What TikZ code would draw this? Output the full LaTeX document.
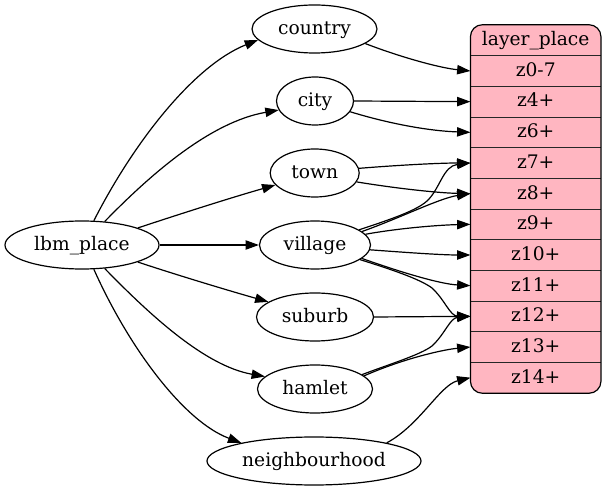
\documentclass[tikz,border=0pt]{standalone}
\usepackage{fontspec}
\setmainfont{DejaVu Serif}
\usetikzlibrary{shapes.geometric,arrows.meta}
\definecolor{lpink}{HTML}{FFB6C1}
\begin{document}
\begin{tikzpicture}[x=0.75pt,y=-0.75pt,
  lbl/.style={font=\fontsize{14}{16}\selectfont, text height=10.5pt, text depth=2.5pt},
  ell/.style={lbl, draw, ellipse, line width=0.9pt, inner sep=0pt, minimum height=36pt},
  cell/.style={lbl, inner sep=0pt, minimum width=97.5pt, minimum height=23pt},
  sep/.style={line width=0.7pt, black!85},
  edge/.style={-{Triangle[length=10pt,width=7pt]}, line width=0.9pt}]
\useasboundingbox (0,0) rectangle (607,491);
% ellipses
\node[ell, minimum width=115.5pt] (lbm) at (82,245) {lbm\_place};
\node[ell, minimum width=93.75pt] (country) at (314.5,29) {country};
\node[ell, minimum width=57.75pt] (city) at (315,101) {city};
\node[ell, minimum width=66.75pt] (town) at (314.7,173) {town};
\node[ell, minimum width=83.25pt] (village) at (315,245) {village};
\node[ell, minimum width=87.75pt] (suburb) at (315,317) {suburb};
\node[ell, minimum width=86.25pt] (hamlet) at (315,389) {hamlet};
\node[ell, minimum width=160.5pt] (neigh) at (314,461) {neighbourhood};
% record
\node[fill=lpink, rounded corners=9pt, minimum width=97.5pt, minimum height=276pt, inner sep=0pt] (rec) at (535.7,209) {};
\node[cell] (hdr) at (535.7,40.33) {layer\_place};
\node[cell] (r1) at (535.7,71) {z0-7};
\node[cell] (r2) at (535.7,101.67) {z4+};
\node[cell] (r3) at (535.7,132.33) {z6+};
\node[cell] (r4) at (535.7,163) {z7+};
\node[cell] (r5) at (535.7,193.67) {z8+};
\node[cell] (r6) at (535.7,224.33) {z9+};
\node[cell] (r7) at (535.7,255) {z10+};
\node[cell] (r8) at (535.7,285.67) {z11+};
\node[cell] (r9) at (535.7,316.33) {z12+};
\node[cell] (r10) at (535.7,347) {z13+};
\node[cell] (r11) at (535.7,377.67) {z14+};
\foreach \r in {hdr,r1,r2,r3,r4,r5,r6,r7,r8,r9,r10}
  \draw[sep] (\r.south west) -- (\r.south east);
\draw[line width=0.9pt, rounded corners=9pt] (rec.south west) rectangle (rec.north east);
% edges from lbm_place
\draw[edge] (lbm.64) .. controls (135,140) and (195,65) .. (country.191);
\draw[edge] (lbm.46) .. controls (150,175) and (210,122) .. (city.194);
\draw[edge] (lbm.17) .. controls (180,214) and (230,198) .. (town.197);
\draw[edge] (lbm.east) -- (village.west);
\draw[edge] (lbm.-17) .. controls (180,276) and (230,291) .. (suburb.162);
\draw[edge] (lbm.-46) .. controls (150,315) and (205,366) .. (hamlet.166);
\draw[edge] (lbm.-64) .. controls (130,350) and (185,422) .. (neigh.166);
% edges to record
\draw[edge] (country.-16) .. controls (400,57) and (440,68) .. (r1.west);
\draw[edge] (city.east) -- (r2.west);
\draw[edge] (city.-17) .. controls (390,124) and (430,131) .. (r3.west);
\draw[edge] (town.6) .. controls (400,165) and (440,163) .. (r4.west);
\draw[edge] (town.-12) .. controls (400,189) and (440,193) .. (r5.west);
\draw[edge] (village.19) .. controls (395,218) and (417,210) .. (427,201) .. controls (440,189) and (443,166) .. (r4.west);
\draw[edge] (village.16) .. controls (400,218) and (440,198) .. (r5.west);
\draw[edge] (village.12) .. controls (400,228) and (440,225) .. (r6.west);
\draw[edge] (village.-5) .. controls (400,252) and (440,255) .. (r7.west);
\draw[edge] (village.-16) .. controls (400,272) and (440,284) .. (r8.west);
\draw[edge] (village.-18) .. controls (390,269) and (420,279) .. (432,288) .. controls (445,300) and (450,316) .. (r9.west);
\draw[edge] (suburb.east) -- (r9.west);
\draw[edge] (hamlet.17) .. controls (390,364) and (420,355) .. (432,346) .. controls (445,334) and (450,318) .. (r9.west);
\draw[edge] (hamlet.15) .. controls (400,360) and (440,350) .. (r10.west);
\draw[edge] (neigh.14) .. controls (420,425) and (440,385) .. (r11.west);
\end{tikzpicture}
\end{document}
